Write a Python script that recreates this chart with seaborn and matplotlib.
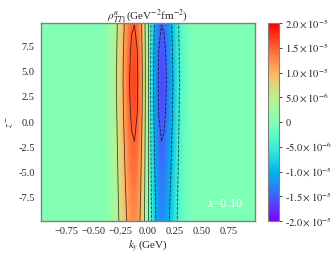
import numpy as np
import matplotlib
matplotlib.use('Agg')
import matplotlib.pyplot as plt
import seaborn as sns

# k_y grid (GeV) and the transverse profile (normalised)
ky = [-1.0, -0.75, -0.6, -0.5, -0.475, -0.45, -0.425, -0.4, -0.375, -0.35, -0.325, -0.3,
      -0.275, -0.25, -0.225, -0.2, -0.175, -0.15, -0.125, -0.1, -0.075, -0.05, -0.025,
      0.0, 0.025, 0.05, 0.075, 0.1, 0.125, 0.15, 0.175, 0.2, 0.225, 0.25, 0.275, 0.3,
      0.325, 0.35, 0.375, 0.4, 0.425, 0.45, 0.475, 0.5, 0.6, 0.75, 1.0]
profile = [1e-7, 1e-6, 0.0001, 0.004, 0.008, 0.014, 0.026, 0.045, 0.074, 0.118, 0.18, 0.265,
           0.372, 0.499, 0.638, 0.777, 0.897, 0.977, 0.998, 0.943, 0.805, 0.589, 0.311,
           0.0, -0.311, -0.589, -0.805, -0.943, -0.998, -0.977, -0.897, -0.777, -0.638, -0.499,
           -0.372, -0.265, -0.18, -0.118, -0.074, -0.045, -0.026, -0.014, -0.008, -0.004,
           -0.0001, -1e-6, -1e-7]
# z grid and peak height of the lobes (units of 1e-5)
zgrid = [-10.0, -6.0, -2.0, 1.0, 4.0, 7.0, 10.0]
amp = [1.25, 1.38, 1.5, 1.6, 1.65, 1.6, 1.49]

cb_ticks = [2e-5, 1.5e-5, 1e-5, 5e-6, 0, -5e-6, -1e-5, -1.5e-5, -2e-5]
cb_labels = [r'$2.0\times10^{-5}$', r'$1.5\times10^{-5}$', r'$1.0\times10^{-5}$',
             r'$5.0\times10^{-6}$', '0', r'-$5.0\times10^{-6}$', r'-$1.0\times10^{-5}$',
             r'-$1.5\times10^{-5}$', r'-$2.0\times10^{-5}$']
yticks = [-7.5, -5.0, -2.5, 0.0, 2.5, 5.0, 7.5]
ylabels = ['-7.5', '-5.0', '-2.5', '0.0', '2.5', '5.0', '7.5']

sns.set_style('white')
plt.rcParams['font.family'] = ['Liberation Serif', 'DejaVu Serif']
plt.rcParams['mathtext.fontset'] = 'stix'
plt.rcParams['font.size'] = 7.5

K, Z = np.meshgrid(ky, zgrid)
rho = np.outer(np.array(amp) * 1e-5, profile)

fig = plt.figure(figsize=(3.35, 2.59), dpi=100)
ax = fig.add_axes([0.1224, 0.1467, 0.6386, 0.7643])
cax = fig.add_axes([0.8, 0.1467, 0.033, 0.7643])

cmap = sns.color_palette('rainbow', as_cmap=True)
cf = ax.contourf(K, Z, rho, levels=np.linspace(-2e-5, 2e-5, 81), cmap=cmap,
                 vmin=-2e-5, vmax=2e-5)
ax.contour(K, Z, rho, levels=[-1.5e-5, -1e-5, -5e-6, 0, 5e-6, 1e-5, 1.5e-5],
           colors='k', linewidths=0.6, alpha=0.7)
ax.set_xlim(-0.99, 0.99)
ax.set_ylim(-9.85, 9.85)
ax.set_xticks([-0.75, -0.5, -0.25, 0.0, 0.25, 0.5, 0.75])
ax.set_yticks(yticks)
ax.set_yticklabels(ylabels)
ax.tick_params(length=2.5, width=0.6, color='#555555', pad=2)
for s in ax.spines.values():
    s.set_color('#808080')
    s.set_linewidth(1.0)
ax.set_xlabel(r'$k_y\,$(GeV)', labelpad=1, fontsize=8)
ax.set_ylabel(r'$z^-$', labelpad=2)
ax.set_title(r'$\rho^u_{TT1}$(GeV$^{-2}$fm$^{-2}$)', pad=2, fontsize=8)
ax.text(0.55, -8.2, r'$x$=0.10', color='white', fontsize=9, va='center')

cb = fig.colorbar(cf, cax=cax, ticks=cb_ticks)
cb.ax.set_yticklabels(cb_labels)
cb.ax.tick_params(length=2.5, width=0.6, pad=2)
cb.outline.set_edgecolor('#808080')
cb.outline.set_linewidth(0.8)

fig.savefig('out.png', dpi=100)
